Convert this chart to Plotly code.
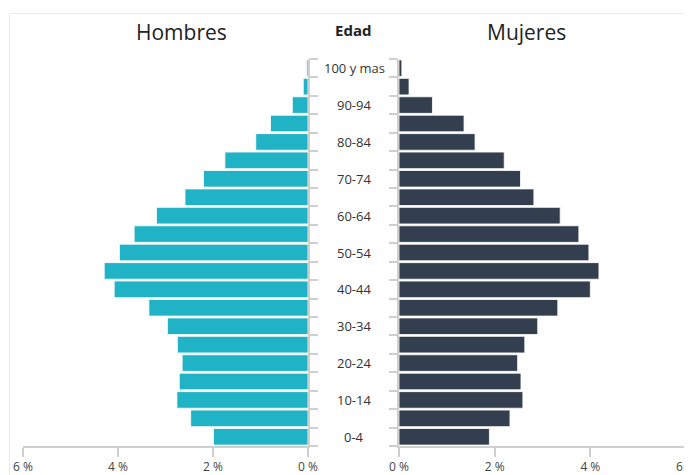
import plotly.graph_objects as go

categories = ["0-4", "5-9", "10-14", "15-19", "20-24", "25-29", "30-34", "35-39",
              "40-44", "45-49", "50-54", "55-59", "60-64", "65-69", "70-74", "75-79",
              "80-84", "85-89", "90-94", "95-99", "100 y mas"]
hombres = [1.99, 2.47, 2.76, 2.71, 2.65, 2.75, 2.96, 3.35, 4.08, 4.29, 3.97, 3.66,
           3.19, 2.59, 2.20, 1.75, 1.10, 0.79, 0.33, 0.10, 0.03]
mujeres = [1.89, 2.32, 2.59, 2.55, 2.48, 2.63, 2.90, 3.32, 4.00, 4.18, 3.97, 3.76,
           3.37, 2.82, 2.54, 2.20, 1.59, 1.36, 0.70, 0.21, 0.06]
x_ticks = [0, 2, 4, 6]
label_categories = categories[::2]

C_MEN = "#20B3C6"
C_WOMEN = "#333F4F"
AX = "#CFCFCF"
FONT = "Open Sans, Noto Sans, DejaVu Sans, sans-serif"

# page body has an 8px default margin; work in screenshot pixels and subtract it
OFF = 8
W, H = 692 - OFF, 475 - OFF
L_PIX, R_PIX, T_PIX, B_PIX = 23, 686, 59, 446   # plot area edges in screenshot pixels
ML = L_PIX - OFF
MR = 692 - R_PIX
MT = T_PIX - OFF
MB = 475 - B_PIX
PW = W - ML - MR
PH = H - MT - MB

def px(p):
    return (p - L_PIX) / PW

def py(p):
    return (B_PIX - p) / PH

fig = go.Figure()
fig.add_trace(go.Bar(y=categories, x=hombres, orientation="h", xaxis="x", yaxis="y",
                     marker=dict(color=C_MEN, line=dict(color="white", width=0.8)),
                     name="Hombres", hoverinfo="x+y"))
fig.add_trace(go.Bar(y=categories, x=mujeres, orientation="h", xaxis="x2", yaxis="y2",
                     marker=dict(color=C_WOMEN, line=dict(color="white", width=0.8)),
                     name="Mujeres", hoverinfo="x+y"))

xcommon = dict(tickvals=x_ticks, ticktext=[f"{v} %" for v in x_ticks],
               showgrid=False, zeroline=False, showline=True, linecolor=AX, linewidth=2,
               ticks="outside", ticklen=9, tickwidth=2, tickcolor=AX, automargin=False,
               ticklabeloverflow="allow",
               tickfont=dict(family=FONT, size=12, color="#444"), fixedrange=True)
ycommon = dict(type="category", categoryorder="array", categoryarray=categories,
               range=[-0.5, len(categories) - 0.5], showgrid=False, zeroline=False,
               showline=True, linecolor=AX, linewidth=2, ticks="outside", ticklen=8,
               tickwidth=2, tickcolor=AX, tickson="boundaries", showticklabels=False,
               automargin=False, fixedrange=True)

fig.update_layout(
    width=W, height=H,
    margin=dict(l=ML, r=MR, t=MT, b=MB, autoexpand=False),
    paper_bgcolor="white", plot_bgcolor="white",
    showlegend=False, bargap=0.1,
    xaxis=dict(domain=[0, px(308)], range=[6, 0], **xcommon),
    xaxis2=dict(domain=[px(399), 1], range=[0, 6], anchor="y2", **xcommon),
    yaxis=dict(side="right", anchor="x", **ycommon),
    yaxis2=dict(side="left", anchor="x2", **ycommon),
    font=dict(family=FONT),
)

annotations = []
for c in label_categories:
    annotations.append(dict(x=px(354), y=c, xref="paper", yref="y", text=c,
                            showarrow=False, xanchor="center", yanchor="middle",
                            font=dict(family=FONT, size=13, color="#333")))
annotations.append(dict(x=px(181), y=py(32), xref="paper", yref="paper", text="Hombres",
                        showarrow=False, xanchor="center", yanchor="middle",
                        font=dict(family=FONT, size=21, color="#222")))
annotations.append(dict(x=px(526), y=py(32), xref="paper", yref="paper", text="Mujeres",
                        showarrow=False, xanchor="center", yanchor="middle",
                        font=dict(family=FONT, size=21, color="#222")))
annotations.append(dict(x=px(353), y=py(30), xref="paper", yref="paper", text="<b>Edad</b>",
                        showarrow=False, xanchor="center", yanchor="middle",
                        font=dict(family=FONT, size=15, color="#222")))
fig.update_layout(annotations=annotations)

fig.add_shape(type="rect", xref="paper", yref="paper",
              x0=px(9.5), x1=px(700), y0=py(490), y1=py(13.5),
              line=dict(color="#EBEBEB", width=1), layer="below")

fig.write_html("out.html")
